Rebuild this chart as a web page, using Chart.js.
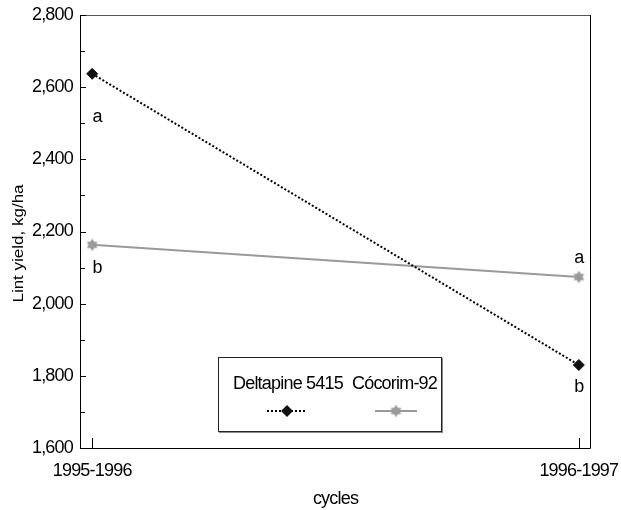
<!DOCTYPE html>
<html>
<head>
<meta charset="utf-8">
<script src="https://cdn.jsdelivr.net/npm/chart.js@4"></script>
<style>
  html, body { margin: 0; padding: 0; background: #fff; }
  #wrap { width: 621px; height: 510px; position: relative; }
</style>
</head>
<body>
<div id="wrap"><canvas id="c" width="621" height="510"></canvas></div>
<script>
const categories = ['1995-1996', '1996-1997'];
const deltapine = [2637, 1830];
const cocorim = [2163, 2074];
const deltapineLetters = ['a', 'b'];
const cocorimLetters = ['b', 'a'];
const seriesNames = ['Deltapine 5415', 'Cócorim-92'];
const yTitle = 'Lint yield, kg/ha';
const xTitle = 'cycles';
const yMin = 1600, yMax = 2800, yStep = 200;

const FONT = "'Liberation Sans', Arial, sans-serif";
const GREY = '#9a9a9a';
const LS = '-0.8px';

function makeStar(color, r) {
  const s = Math.ceil(r * 2 + 2);
  const cv = document.createElement('canvas');
  cv.width = s; cv.height = s;
  const c = cv.getContext('2d');
  const cx = s / 2, cy = s / 2;
  c.fillStyle = color;
  c.beginPath();
  for (let i = 0; i < 12; i++) {
    const ang = -Math.PI / 2 + i * Math.PI / 6;
    const rr = i % 2 === 0 ? r : r * 0.6;
    const x = cx + rr * Math.cos(ang), y = cy + rr * Math.sin(ang);
    if (i === 0) c.moveTo(x, y); else c.lineTo(x, y);
  }
  c.closePath();
  c.fill();
  return cv;
}
const starImg = makeStar(GREY, 6.2);

const framePlugin = {
  id: 'frame',
  beforeDraw(chart) {
    chart.ctx.letterSpacing = LS;
  },
  afterDraw(chart) {
    const ctx = chart.ctx;
    const a = chart.chartArea;
    const ys = chart.scales.y, xs = chart.scales.x;
    ctx.save();
    ctx.lineWidth = 1;
    // frame
    ctx.beginPath();
    ctx.strokeStyle = '#555';
    ctx.moveTo(a.left, a.top + 0.5); ctx.lineTo(a.right, a.top + 0.5);
    ctx.stroke();
    ctx.strokeStyle = '#000';
    ctx.beginPath();
    ctx.moveTo(a.left + 0.5, a.top); ctx.lineTo(a.left + 0.5, a.bottom + 0.5);
    ctx.lineTo(a.right - 0.5, a.bottom + 0.5); ctx.lineTo(a.right - 0.5, a.top);
    ctx.stroke();
    // inward y ticks
    ys.ticks.forEach(t => {
      const y = Math.round(ys.getPixelForValue(t.value)) + 0.5;
      const len = (t.value % yStep === 0) ? 6 : 5;
      ctx.beginPath();
      ctx.moveTo(a.left, y); ctx.lineTo(a.left + len, y);
      ctx.stroke();
    });
    // inward x ticks
    xs.ticks.forEach(t => {
      const x = Math.round(xs.getPixelForValue(t.value)) + 0.5;
      ctx.beginPath();
      ctx.moveTo(x, a.bottom); ctx.lineTo(x, a.bottom - 10);
      ctx.stroke();
    });
    // y title
    ctx.save();
    ctx.letterSpacing = '0px';
    ctx.fillStyle = '#000';
    ctx.font = '17px ' + FONT;
    ctx.textAlign = 'center';
    ctx.textBaseline = 'middle';
    ctx.translate(19, (a.top + a.bottom) / 2 + 12);
    ctx.rotate(-Math.PI / 2);
    ctx.scale(1, 0.85);
    ctx.fillText(yTitle, 0, 0);
    ctx.restore();
    // significance letters
    ctx.fillStyle = '#000';
    ctx.font = '18px ' + FONT;
    ctx.textAlign = 'center';
    ctx.textBaseline = 'middle';
    const dOff = [[5, 43], [0, 22]];
    const cOff = [[5, 23], [0, -19]];
    deltapine.forEach((v, i) => {
      ctx.fillText(deltapineLetters[i], xs.getPixelForValue(i) + dOff[i][0], ys.getPixelForValue(v) + dOff[i][1]);
    });
    cocorim.forEach((v, i) => {
      ctx.fillText(cocorimLetters[i], xs.getPixelForValue(i) + cOff[i][0], ys.getPixelForValue(v) + cOff[i][1]);
    });
    // legend box
    const bx = 218, by = 357, bw = 223, bh = 74;
    ctx.fillStyle = '#fff';
    ctx.fillRect(bx, by, bw, bh);
    ctx.fillStyle = '#8a8a8a';
    ctx.fillRect(bx + 1, by + bh, bw, 2);
    ctx.fillRect(bx + bw, by + 1, 2, bh + 1);
    ctx.strokeStyle = '#222';
    ctx.strokeRect(bx + 0.5, by + 0.5, bw, bh);
    ctx.fillStyle = '#000';
    ctx.font = '18px ' + FONT;
    ctx.textAlign = 'left';
    ctx.textBaseline = 'middle';
    ctx.fillText(seriesNames[0], 233, 384);
    ctx.fillText(seriesNames[1], 352, 384);
    // deltapine sample
    const sy = 411;
    ctx.strokeStyle = '#000';
    ctx.lineWidth = 2;
    ctx.setLineDash([2, 2]);
    ctx.beginPath(); ctx.moveTo(267, sy); ctx.lineTo(307, sy); ctx.stroke();
    ctx.setLineDash([]);
    ctx.fillStyle = '#111';
    ctx.beginPath();
    ctx.moveTo(287, sy - 6); ctx.lineTo(293, sy); ctx.lineTo(287, sy + 6); ctx.lineTo(281, sy);
    ctx.closePath(); ctx.fill();
    // cocorim sample
    ctx.strokeStyle = GREY;
    ctx.beginPath(); ctx.moveTo(375, sy); ctx.lineTo(417, sy); ctx.stroke();
    ctx.drawImage(starImg, 396 - starImg.width / 2, sy - starImg.height / 2);
    ctx.restore();
  }
};

new Chart(document.getElementById('c'), {
  type: 'line',
  data: {
    datasets: [
      {
        label: seriesNames[0],
        data: deltapine.map((v, i) => ({ x: i, y: v })),
        borderColor: '#000',
        borderWidth: 2,
        borderDash: [2, 2],
        pointStyle: 'rectRot',
        pointRadius: 5.5,
        pointBackgroundColor: '#111',
        pointBorderColor: '#111',
        pointBorderWidth: 1
      },
      {
        label: seriesNames[1],
        data: cocorim.map((v, i) => ({ x: i, y: v })),
        borderColor: GREY,
        borderWidth: 2,
        pointStyle: starImg
      }
    ]
  },
  plugins: [framePlugin],
  options: {
    responsive: false,
    animation: false,
    events: [],
    layout: { padding: { left: 0, top: 15, right: 30, bottom: 0 } },
    plugins: { legend: { display: false }, tooltip: { enabled: false } },
    scales: {
      x: {
        type: 'linear',
        min: -0.025,
        max: 1.025,
        afterBuildTicks(scale) { scale.ticks = categories.map((c, i) => ({ value: i })); },
        afterFit(scale) { scale.height = 62; scale.paddingLeft = 0; scale.paddingRight = 0; },
        grid: { display: false, drawTicks: false },
        border: { display: false },
        ticks: {
          padding: 12,
          color: '#000',
          font: { family: FONT, size: 18 },
          maxRotation: 0,
          autoSkip: false,
          callback: (v) => categories[v]
        },
        title: {
          display: true,
          text: xTitle,
          color: '#000',
          font: { family: FONT, size: 18 },
          padding: { top: 1, bottom: 0 }
        }
      },
      y: {
        min: yMin,
        max: yMax,
        afterFit(scale) { scale.width = 80; scale.paddingTop = 0; scale.paddingBottom = 0; },
        grid: { display: false, drawTicks: false },
        border: { display: false },
        ticks: {
          stepSize: 100,
          padding: 7,
          color: '#000',
          autoSkip: false,
          font: { family: FONT, size: 18 },
          callback: (v) => (v % yStep === 0 ? v.toLocaleString('en-US') : '')
        },
        title: { display: false }
      }
    }
  }
});
</script>
</body>
</html>
